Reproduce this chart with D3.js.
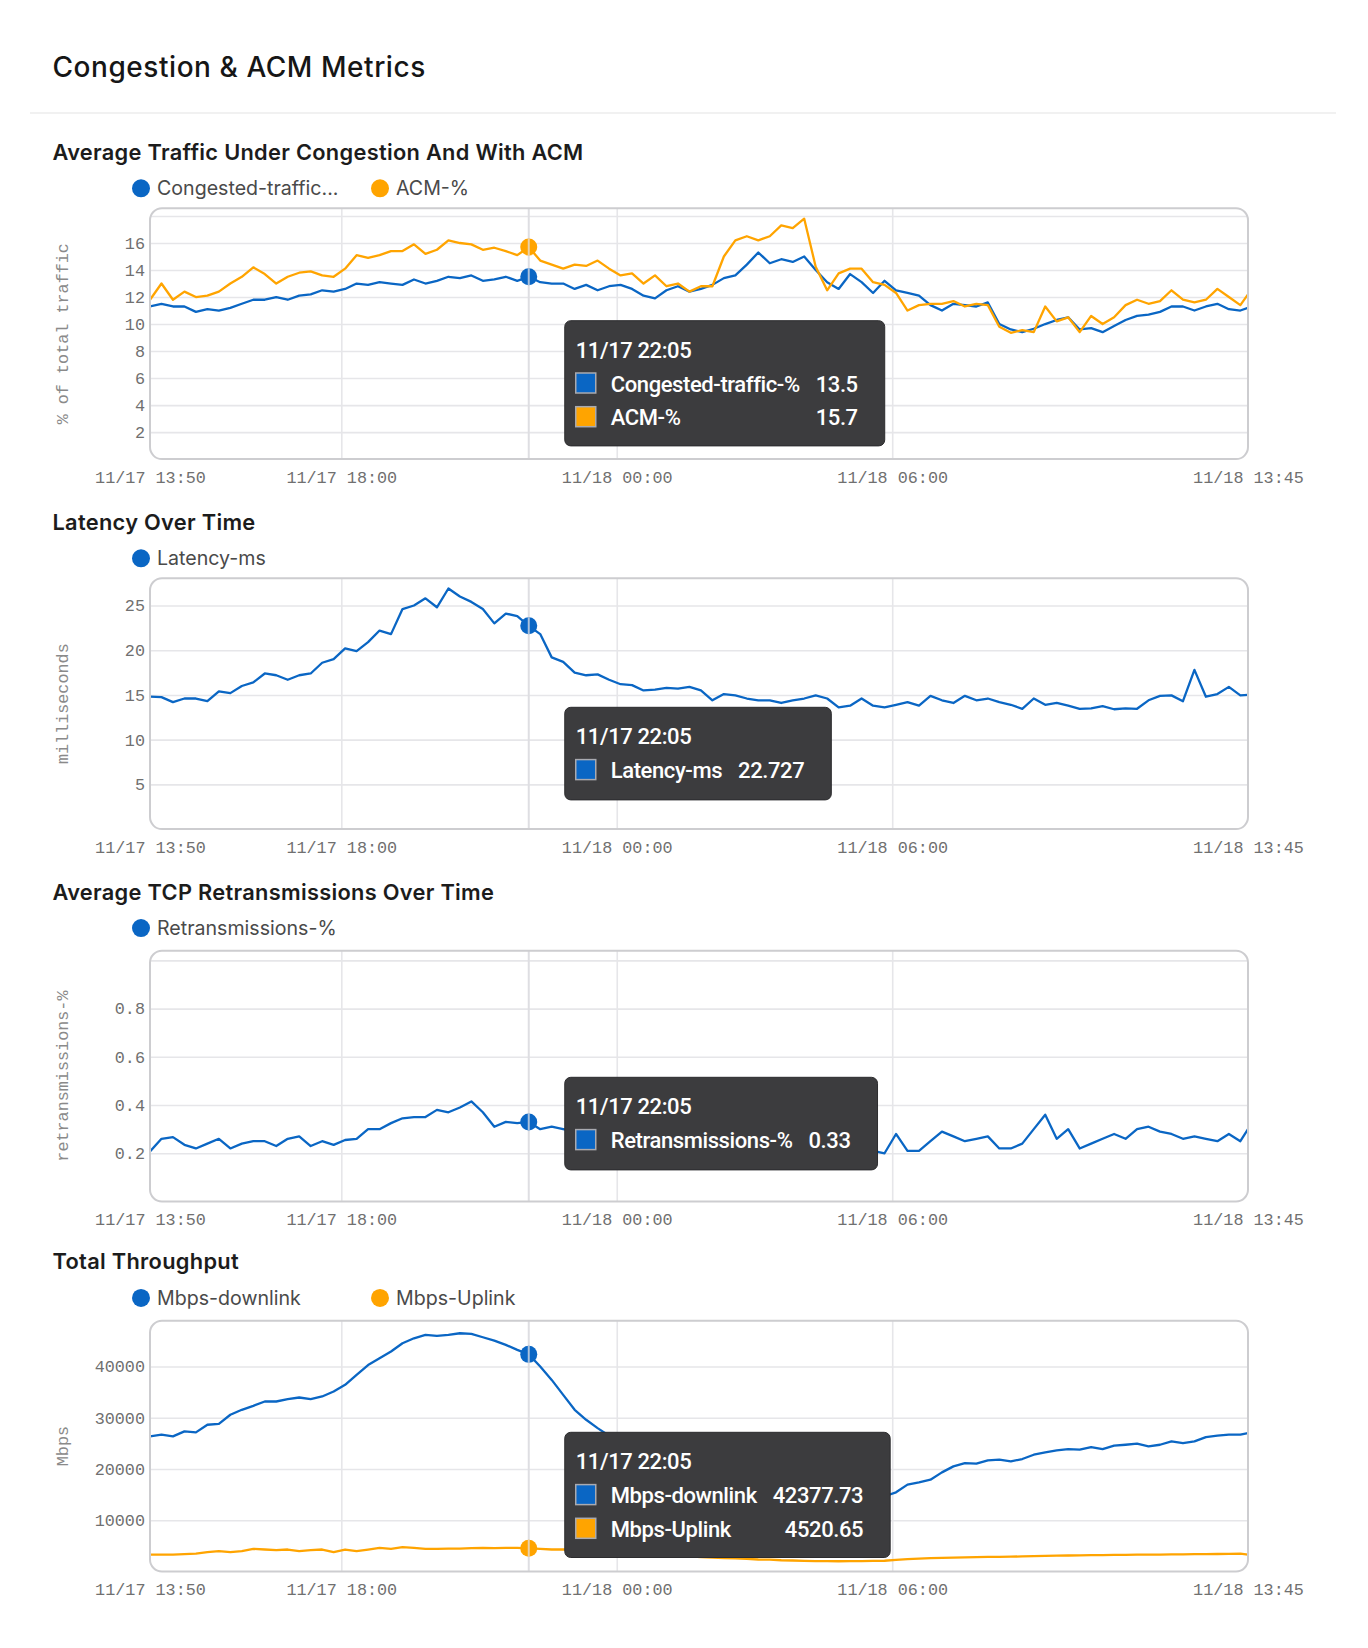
<!DOCTYPE html>
<html><head><meta charset="utf-8">
<script src="https://cdn.jsdelivr.net/npm/d3@7"></script>
<style>body{margin:0;background:#fff;}</style>
</head><body>
<svg id="c" width="1368" height="1648"></svg>
<script>
// ---------- DATA ----------
const startTime = new Date(2023, 10, 17, 13, 50);
const endTime = new Date(2023, 10, 18, 13, 45);
const hoverTime = new Date(2023, 10, 17, 22, 5);
const stepMinutes = 15;
const times = d3.range(96).map(i => new Date(+startTime + i * stepMinutes * 60000)).concat([endTime]);

const xTickTimes = [startTime, new Date(2023,10,17,18,0), new Date(2023,10,18,0,0), new Date(2023,10,18,6,0), endTime];
const xTickLabels = ["11/17 13:50", "11/17 18:00", "11/18 00:00", "11/18 06:00", "11/18 13:45"];

const congested = [11.3,11.5,11.3,11.3,10.9,11.1,11.0,11.2,11.5,11.8,
 11.8,12.0,11.8,12.1,12.2,12.5,12.4,12.6,13.0,12.9,
 13.1,13.0,12.9,13.3,13.0,13.2,13.5,13.4,13.6,13.2,
 13.3,13.5,13.2,13.5,13.1,13.0,13.0,12.6,12.9,12.5,
 12.8,12.9,12.6,12.1,11.9,12.5,12.8,12.4,12.6,12.9,
 13.4,13.6,14.4,15.3,14.5,14.8,14.6,15.0,14.0,13.1,
 12.6,13.7,13.1,12.3,13.2,12.5,12.3,12.1,11.4,11.0,
 11.5,11.4,11.3,11.6,10.0,9.6,9.4,9.65,10.0,10.3,
 10.5,9.6,9.7,9.4,9.85,10.3,10.6,10.7,10.9,11.3,
 11.3,11.0,11.3,11.5,11.1,11.0,11.2];
const acm = [11.8,13.0,11.8,12.4,12.0,12.1,12.4,13.0,13.5,14.2,
 13.7,13.0,13.5,13.8,13.9,13.6,13.5,14.1,15.1,14.9,
 15.1,15.4,15.4,15.9,15.2,15.5,16.2,16.0,15.9,15.5,
 15.65,15.4,15.1,15.7,14.7,14.4,14.1,14.4,14.3,14.7,
 14.1,13.6,13.75,13.0,13.6,12.8,13.0,12.4,12.8,12.8,
 15.0,16.2,16.5,16.2,16.5,17.3,17.1,17.8,14.25,12.5,
 13.75,14.1,14.1,13.1,12.9,12.3,11.0,11.4,11.5,11.5,
 11.7,11.3,11.5,11.4,9.8,9.35,9.55,9.4,11.3,10.2,
 10.5,9.4,10.6,10.0,10.5,11.4,11.8,11.5,11.7,12.5,
 11.8,11.6,11.8,12.6,12.0,11.4,12.2];
const latency = [14.8,14.75,14.2,14.6,14.6,14.3,15.4,15.2,16.0,16.4,
 17.4,17.2,16.7,17.2,17.4,18.6,19.0,20.2,19.9,20.9,
 22.2,21.8,24.6,25.0,25.8,24.8,26.9,26.0,25.4,24.6,
 23.0,24.1,23.8,22.727,21.8,19.2,18.7,17.5,17.2,17.3,
 16.7,16.2,16.1,15.5,15.6,15.8,15.7,15.9,15.5,14.4,
 15.1,14.95,14.6,14.4,14.4,14.1,14.4,14.6,14.95,14.6,
 13.6,13.8,14.6,13.8,13.6,13.9,14.2,13.8,14.9,14.4,
 14.1,14.9,14.4,14.6,14.2,13.9,13.45,14.6,13.9,14.1,
 13.8,13.45,13.5,13.75,13.4,13.5,13.45,14.4,14.9,14.95,
 14.3,17.8,14.8,15.1,15.9,14.95,15.0];
const retrans = [0.207,0.26,0.267,0.235,0.22,0.24,0.26,0.22,0.24,0.25,
 0.25,0.23,0.26,0.27,0.23,0.25,0.235,0.255,0.26,0.30,
 0.30,0.325,0.345,0.35,0.35,0.38,0.37,0.39,0.415,0.37,
 0.31,0.33,0.325,0.33,0.30,0.31,0.30,0.29,0.31,0.28,
 0.27,0.29,0.26,0.27,0.25,0.26,0.24,0.27,0.25,0.24,
 0.26,0.23,0.25,0.24,0.22,0.25,0.23,0.24,0.22,0.23,
 0.25,0.22,0.23,0.21,0.20,0.28,0.21,0.21,0.25,0.29,
 0.27,0.25,0.26,0.27,0.22,0.22,0.24,0.30,0.36,0.26,
 0.30,0.22,0.24,0.26,0.28,0.26,0.30,0.31,0.29,0.28,
 0.26,0.27,0.26,0.25,0.28,0.25,0.30];
const downlink = [26370,26700,26370,27340,27150,28640,28830,30590,31560,32340,
 33180,33180,33640,33960,33640,34160,35130,36430,38380,40300,
 41630,42930,44550,45520,46170,45980,46170,46500,46370,45720,
 45070,44230,43250,42377.73,40000,37400,34480,31560,29610,27990,
 26500,25000,23700,22300,21100,19900,18900,18000,17200,16600,
 16100,15600,15300,15000,14800,14600,14400,14300,14200,14300,
 14100,14200,14300,14500,14680,15460,16950,17400,17920,19350,
 20520,21170,21040,21690,21820,21500,21950,22790,23250,23640,
 23900,23770,24290,23900,24550,24740,24940,24420,24740,25390,
 25070,25390,26240,26500,26700,26700,27010];
const uplink = [3310,3310,3300,3400,3500,3770,3960,3770,3960,4420,
 4290,4160,4290,3960,4160,4290,3770,4290,3960,4290,
 4610,4420,4740,4610,4420,4420,4480,4480,4550,4610,
 4550,4610,4610,4520.65,4420,4290,4290,4250,4200,4150,
 4000,3850,3700,3500,3350,3200,3100,2950,2800,2700,
 2600,2550,2450,2340,2300,2200,2150,2080,2020,2010,
 2000,2010,2030,2060,2100,2250,2400,2500,2600,2650,
 2700,2750,2800,2860,2860,2900,2950,3000,3050,3100,
 3120,3150,3200,3200,3250,3250,3300,3310,3300,3350,
 3350,3400,3380,3420,3450,3500,3310];

const panelTitles = ["Average Traffic Under Congestion And With ACM", "Latency Over Time", "Average TCP Retransmissions Over Time", "Total Throughput"];
const yTitles = ["% of total traffic", "milliseconds", "retransmissions-%", "Mbps"];
const seriesNames = [["Congested-traffic-%", "ACM-%"], ["Latency-ms"], ["Retransmissions-%"], ["Mbps-downlink", "Mbps-Uplink"]];
const legendLabels = [["Congested-traffic...", "ACM-%"], ["Latency-ms"], ["Retransmissions-%"], ["Mbps-downlink", "Mbps-Uplink"]];
const seriesValues = [[congested, acm], [latency], [retrans], [downlink, uplink]];
const yMax = [18.57, 28.04, 1.04, 48950];
const yGridTicks = [[2,4,6,8,10,12,14,16,18], [5,10,15,20,25], [0.2,0.4,0.6,0.8,1.0], [10000,20000,30000,40000]];
const yLabelTicks = [[2,4,6,8,10,12,14,16], [5,10,15,20,25], [0.2,0.4,0.6,0.8], [10000,20000,30000,40000]];

// ---------- STYLE / LAYOUT ----------
const BLUE = "#0a66c4", ORANGE = "#ffa400";
const seriesColors = [BLUE, ORANGE];
const layout = [
  {sub:160, legend:188.3, top:208.3, tipTop:320.7},
  {sub:529.8, legend:558.3, top:578.3, tipTop:707.3},
  {sub:899.6, legend:928.1, top:950.7, tipTop:1077.3},
  {sub:1269.4, legend:1297.9, top:1320.7, tipTop:1432.3}
];
const FRAME_H = 250.8;
const X0 = 150, X1 = 1248;
const SANS = "Inter, 'Noto Sans', sans-serif";
const MONO = "'Liberation Mono', 'DejaVu Sans Mono', monospace";
const TIPFONT = "Roboto, 'Liberation Sans', sans-serif";

const svg = d3.select("#c");
svg.append("rect").attr("width",1368).attr("height",1648).attr("fill","#fff");
svg.append("text").attr("x",52.5).attr("y",77).text("Congestion & ACM Metrics")
  .attr("font-family",SANS).attr("font-size",28).attr("font-weight",500)
  .attr("letter-spacing","0.55px").attr("fill","#161616");
svg.append("line").attr("x1",30).attr("x2",1336).attr("y1",113).attr("y2",113)
  .attr("stroke","#ededed").attr("stroke-width",1.5);

const x = d3.scaleTime().domain([startTime, endTime]).range([X0, X1]);
const fmt = d3.timeFormat("%m/%d %H:%M");
const hoverIdx = times.findIndex(t => +t === +hoverTime);

panelTitles.forEach((title, k) => {
  const L = layout[k];
  const top = L.top, bottom = L.top + FRAME_H;
  const y = d3.scaleLinear().domain([0, yMax[k]]).range([bottom, top]);
  const g = svg.append("g");

  g.append("text").attr("x",52.5).attr("y",L.sub).text(title)
    .attr("font-family",SANS).attr("font-size",21.8).attr("font-weight",600)
    .attr("letter-spacing","0.3px").attr("fill","#1c1c1c");

  // legend
  legendLabels[k].forEach((lab, i) => {
    const lx = 141 + i * 239;
    g.append("circle").attr("cx",lx).attr("cy",L.legend).attr("r",9).attr("fill",seriesColors[i]);
    g.append("text").attr("x",lx+16).attr("y",L.legend+7).text(lab)
      .attr("font-family",SANS).attr("font-size",19.6).attr("fill","#4a4a4a");
  });

  const clipId = "clip"+k;
  g.append("clipPath").attr("id",clipId).append("rect")
    .attr("x",X0).attr("y",top).attr("width",X1-X0).attr("height",FRAME_H).attr("rx",12);

  // horizontal grid
  const gridY = g.append("g").attr("transform",`translate(${X0},0)`)
    .call(d3.axisLeft(y).tickValues(yGridTicks[k]).tickSize(-(X1-X0)).tickFormat(""));
  gridY.select(".domain").remove();
  gridY.selectAll("line").attr("stroke","#e6e6e9").attr("stroke-width",1.6);

  // vertical grid
  const gridX = g.append("g").attr("transform",`translate(0,${bottom})`)
    .call(d3.axisBottom(x).tickValues(xTickTimes.slice(1,-1)).tickSize(-FRAME_H).tickFormat(""));
  gridX.select(".domain").remove();
  gridX.selectAll("line").attr("stroke","#e6e6e9").attr("stroke-width",1.6);

  // hover line
  const hx = x(hoverTime);
  g.append("line").attr("x1",hx).attr("x2",hx).attr("y1",top).attr("y2",bottom)
    .attr("stroke","#dedee2").attr("stroke-width",2);

  // series
  const plot = g.append("g").attr("clip-path",`url(#${clipId})`);
  seriesValues[k].forEach((vals, i) => {
    const line = d3.line().x((d,j) => x(times[j])).y(d => y(d));
    plot.append("path").datum(vals).attr("d",line).attr("fill","none")
      .attr("stroke",seriesColors[i]).attr("stroke-width",2.3).attr("stroke-linejoin","round");
  });
  seriesValues[k].forEach((vals, i) => {
    g.append("circle").attr("cx",x(times[hoverIdx])).attr("cy",y(vals[hoverIdx])).attr("r",8.5)
      .attr("fill",seriesColors[i]);
    g.append("line").attr("x1",hx).attr("x2",hx)
      .attr("y1",y(vals[hoverIdx])-8.5).attr("y2",y(vals[hoverIdx])+8.5)
      .attr("stroke","rgba(225,225,230,0.75)").attr("stroke-width",2);
  });

  // frame
  g.append("rect").attr("x",X0).attr("y",top).attr("width",X1-X0).attr("height",FRAME_H).attr("rx",12)
    .attr("fill","none").attr("stroke","#cdcdd0").attr("stroke-width",2);

  // y axis labels
  const ya = g.append("g").attr("transform",`translate(${X0},0)`)
    .call(d3.axisLeft(y).tickValues(yLabelTicks[k]).tickSize(0).tickPadding(5).tickFormat(d3.format("")));
  ya.select(".domain").remove();
  ya.selectAll("text").attr("font-family",MONO).attr("font-size",16.8).attr("fill","#707070");

  // x axis labels
  const xa = g.append("g").attr("transform",`translate(0,${bottom})`)
    .call(d3.axisBottom(x).tickValues(xTickTimes).tickSize(0).tickFormat((d,i) => xTickLabels[i]));
  xa.select(".domain").remove();
  xa.selectAll("text").attr("y",23.5).attr("dy",null)
    .attr("font-family",MONO).attr("font-size",16.8).attr("fill","#707070");

  // y title
  g.append("text").attr("transform",`translate(63,${top+FRAME_H/2}) rotate(-90)`)
    .attr("text-anchor","middle").attr("dominant-baseline","central").text(yTitles[k])
    .attr("font-family",MONO).attr("font-size",16.8).attr("fill","#8a8a8a");

  // tooltip
  const tip = g.append("g").attr("transform",`translate(${hx+36},${L.tipTop})`);
  const bg = tip.append("rect").attr("rx",6).attr("fill","#3c3c3e").attr("stroke","#2c2c2e").attr("stroke-width",1);
  const tfont = s => s.attr("font-family",TIPFONT).attr("font-size",22).attr("font-weight",500)
    .attr("letter-spacing","-0.4px").attr("fill","#fff");
  tip.append("text").attr("x",11).attr("y",37).text(fmt(hoverTime)).call(tfont);
  let labW = 0, valW = 0;
  const valTexts = [];
  seriesNames[k].forEach((nm, i) => {
    tip.append("rect").attr("x",11).attr("y",52.3+i*33.7).attr("width",20).attr("height",20)
      .attr("fill",seriesColors[i]).attr("stroke","#a9aab0").attr("stroke-width",1.5);
    const t = tip.append("text").attr("x",46).attr("y",71+i*33.4).text(nm).call(tfont);
    labW = Math.max(labW, t.node().getComputedTextLength());
    const v = tip.append("text").attr("y",71+i*33.4).attr("text-anchor","end")
      .text(String(seriesValues[k][i][hoverIdx])).call(tfont);
    valW = Math.max(valW, v.node().getComputedTextLength());
    valTexts.push(v);
  });
  const W = 46 + labW + 16 + valW + 27;
  const H = 60 + 32.6 * seriesNames[k].length;
  bg.attr("width",W).attr("height",H);
  valTexts.forEach(v => v.attr("x", W - 27));
});
</script>
</body></html>
